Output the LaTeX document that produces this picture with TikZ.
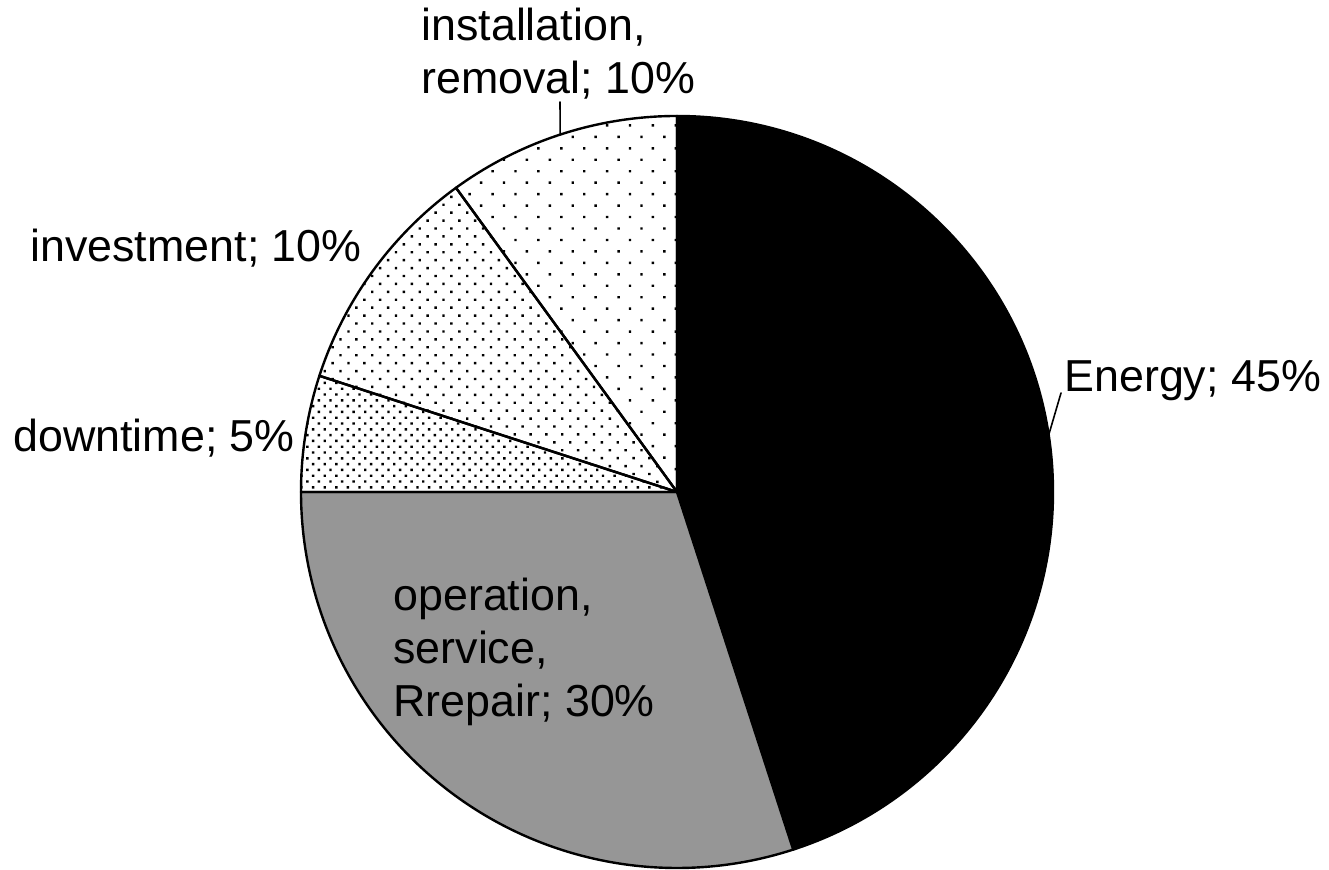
\documentclass[tikz,border=0pt]{standalone}
\usepackage{fontspec}
\setmainfont{Liberation Sans}
\usetikzlibrary{patterns.meta,calc}
\definecolor{slicegray}{RGB}{150,150,150}
\begin{document}
\begin{tikzpicture}[x=0.5pt,y=0.5pt,line join=round,line cap=round]
	\tikzset{every node/.style={font=\fontsize{22.4}{26.3}\selectfont,inner sep=0pt,align=left},
		slice/.style={draw=black,line width=1.2pt},
		leader/.style={draw=black,line width=0.8pt},
		sparsedots/.style={pattern={Dots[distance=8.1pt,radius=0.85pt,angle=45]}},
		middots/.style={pattern={Dots[distance=5.6pt,radius=0.85pt,angle=45]}},
		densedots/.style={pattern={Dots[distance=4.1pt,radius=0.85pt,angle=45]}}}
	\useasboundingbox (0,0) rectangle (1329,870);
	\coordinate (O) at (677,378);
	% slices, clockwise from the top
	\draw[slice,fill=black] (O) -- ++(90:188pt) arc[start angle=90,end angle=-72,radius=188pt] -- cycle;
	\draw[slice,fill=slicegray] (O) -- ++(-72:188pt) arc[start angle=-72,end angle=-180,radius=188pt] -- cycle;
	\draw[slice,densedots] (O) -- ++(180:188pt) arc[start angle=180,end angle=162,radius=188pt] -- cycle;
	\draw[slice,middots] (O) -- ++(162:188pt) arc[start angle=162,end angle=126,radius=188pt] -- cycle;
	\draw[slice,sparsedots] (O) -- ++(126:188pt) arc[start angle=126,end angle=90,radius=188pt] -- cycle;
	% labels
	\node[anchor=base west] (energy) at (1064,478) {Energy; 45\%};
	\node[anchor=north west] (operation) at (393,292) {operation,\\service,\\Rrepair; 30\%};
	\node[anchor=base west] (downtime) at (13,418) {downtime; 5\%};
	\node[anchor=base west] (investment) at (30,608) {investment; 10\%};
	\node[anchor=north west] (installation) at (421,862) {installation,\\removal; 10\%};
	% leader lines
	\coordinate (energy-tip) at (1061,477);
	\coordinate (energy-edge) at ($(O)+(8.7:188pt)$);
	\coordinate (installation-tip) at (560,768);
	\coordinate (installation-edge) at ($(O)+(108.1:188pt)$);
	\draw[leader] (energy-tip) -- (energy-edge);
	\draw[leader] (installation-tip) -- (installation-edge);
\end{tikzpicture}
\end{document}
